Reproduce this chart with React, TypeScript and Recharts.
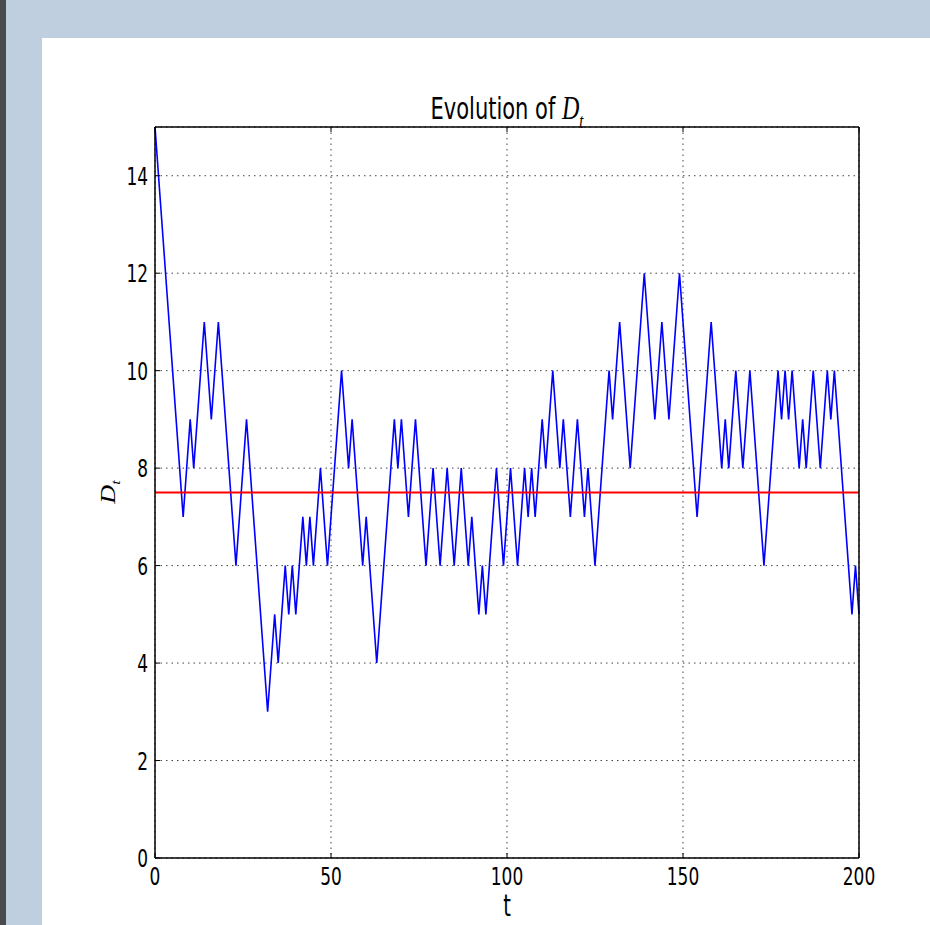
import { LineChart, Line, XAxis, YAxis, CartesianGrid, ReferenceLine } from 'recharts';

// D_t, one value per step t = 0..200
const dValues = [
  15, 14, 13, 12, 11, 10, 9, 8, 7, 8,
  9, 8, 9, 10, 11, 10, 9, 10, 11, 10,
  9, 8, 7, 6, 7, 8, 9, 8, 7, 6,
  5, 4, 3, 4, 5, 4, 5, 6, 5, 6,
  5, 6, 7, 6, 7, 6, 7, 8, 7, 6,
  7, 8, 9, 10, 9, 8, 9, 8, 7, 6,
  7, 6, 5, 4, 5, 6, 7, 8, 9, 8,
  9, 8, 7, 8, 9, 8, 7, 6, 7, 8,
  7, 6, 7, 8, 7, 6, 7, 8, 7, 6,
  7, 6, 5, 6, 5, 6, 7, 8, 7, 6,
  7, 8, 7, 6, 7, 8, 7, 8, 7, 8,
  9, 8, 9, 10, 9, 8, 9, 8, 7, 8,
  9, 8, 7, 8, 7, 6, 7, 8, 9, 10,
  9, 10, 11, 10, 9, 8, 9, 10, 11, 12,
  11, 10, 9, 10, 11, 10, 9, 10, 11, 12,
  11, 10, 9, 8, 7, 8, 9, 10, 11, 10,
  9, 8, 9, 8, 9, 10, 9, 8, 9, 10,
  9, 8, 7, 6, 7, 8, 9, 10, 9, 10,
  9, 10, 9, 8, 9, 8, 9, 10, 9, 8,
  9, 10, 9, 10, 9, 8, 7, 6, 5, 6,
  5,
];
const xTicks = [0, 50, 100, 150, 200];
const yTicks = [0, 2, 4, 6, 8, 10, 12, 14];
const threshold = 7.5;

const data = dValues.map((d, t) => ({ t, d }));

// the source image is stretched vertically, so text gets scaled too
const STRETCH = 1.5;
const GAP = 7;
const TICK_LEN = 5;
const FONT = "'DejaVu Sans', sans-serif";

function LeftTick({ x, y, payload }: any) {
  const ax = x + GAP;
  return (
    <g>
      <line x1={ax} x2={ax + TICK_LEN} y1={y} y2={y} stroke="#000" />
      <text
        transform={`translate(${x},${y}) scale(1,${STRETCH})`}
        textAnchor="end"
        dy="0.36em"
        fontSize={17}
        fontFamily={FONT}
        fill="#000"
      >
        {payload.value}
      </text>
    </g>
  );
}

function BottomTick({ x, y, payload }: any) {
  const ay = y - GAP;
  return (
    <g>
      <line x1={x} x2={x} y1={ay} y2={ay - TICK_LEN} stroke="#000" />
      <text
        transform={`translate(${x},${y + 2}) scale(1,${STRETCH})`}
        textAnchor="middle"
        dy="0.71em"
        fontSize={17}
        fontFamily={FONT}
        fill="#000"
      >
        {payload.value}
      </text>
    </g>
  );
}

function RightTick({ x, y }: any) {
  return <line x1={x} x2={x - TICK_LEN} y1={y} y2={y} stroke="#000" />;
}

function TopTick({ x, y }: any) {
  return <line x1={x} x2={x} y1={y} y2={y + TICK_LEN} stroke="#000" />;
}

function Dt({ size }: { size: number }) {
  return (
    <span>
      <i style={{ fontFamily: "'Liberation Serif', serif", fontSize: size }}>D</i>
      <span
        style={{
          fontFamily: "'Liberation Serif', serif",
          fontStyle: 'italic',
          fontSize: size * 0.62,
          position: 'relative',
          top: size * 0.25,
        }}
      >
        t
      </span>
    </span>
  );
}

export default function App() {
  return (
    <div
      style={{
        position: 'absolute',
        left: 0,
        top: 0,
        width: 930,
        height: 925,
        background: '#bfcfe0',
        overflow: 'hidden',
      }}
    >
      <div style={{ position: 'absolute', left: 0, top: 0, width: 6, height: 925, background: '#4b4b4d' }} />
      <div style={{ position: 'absolute', left: 42, top: 38, width: 888, height: 887, background: '#fff' }} />

      <div style={{ position: 'absolute', left: 0, top: 0 }}>
        <LineChart width={930} height={925} data={data} margin={{ top: 117, right: 61, bottom: 27, left: 105 }}>
          <CartesianGrid stroke="#444" strokeDasharray="1.5 4" />
          <XAxis
            dataKey="t"
            type="number"
            domain={[0, 200]}
            ticks={xTicks}
            interval={0}
            height={40}
            tickSize={0}
            tickMargin={GAP}
            tick={BottomTick}
            axisLine={{ stroke: '#000', strokeWidth: 1.5 }}
          />
          <XAxis
            xAxisId="top"
            orientation="top"
            dataKey="t"
            type="number"
            domain={[0, 200]}
            ticks={xTicks}
            interval={0}
            height={10}
            tickSize={0}
            tickMargin={0}
            tick={TopTick}
            axisLine={{ stroke: '#000', strokeWidth: 1.5 }}
          />
          <YAxis
            type="number"
            domain={[0, 15]}
            ticks={yTicks}
            interval={0}
            width={50}
            tickSize={0}
            tickMargin={GAP}
            tick={LeftTick}
            axisLine={{ stroke: '#000', strokeWidth: 1.5 }}
          />
          <YAxis
            yAxisId="right"
            orientation="right"
            type="number"
            domain={[0, 15]}
            ticks={yTicks}
            interval={0}
            width={10}
            tickSize={0}
            tickMargin={0}
            tick={RightTick}
            axisLine={{ stroke: '#000', strokeWidth: 1.5 }}
          />
          <Line
            type="linear"
            dataKey="d"
            stroke="#0000ff"
            strokeWidth={1.6}
            dot={false}
            activeDot={false}
            isAnimationActive={false}
          />
          <ReferenceLine y={threshold} stroke="#ff0000" strokeWidth={2} />
        </LineChart>
      </div>

      {/* title */}
      <div
        style={{
          position: 'absolute',
          left: 155,
          top: 98,
          width: 704,
          height: 20,
          lineHeight: '20px',
          textAlign: 'center',
          fontFamily: FONT,
          fontSize: 21,
          color: '#000',
          transform: `scaleY(1.4)`,
          whiteSpace: 'nowrap',
        }}
      >
        Evolution of <Dt size={24} />
      </div>

      {/* x label */}
      <div
        style={{
          position: 'absolute',
          left: 495,
          top: 898,
          width: 24,
          height: 18,
          lineHeight: '18px',
          textAlign: 'center',
          fontFamily: FONT,
          fontSize: 19.5,
          color: '#000',
          transform: `scaleY(${STRETCH})`,
        }}
      >
        t
      </div>

      {/* y label */}
      <div
        style={{
          position: 'absolute',
          left: 78,
          top: 477,
          width: 60,
          height: 30,
          lineHeight: '30px',
          textAlign: 'center',
          color: '#000',
          transform: `scaleY(1.3) rotate(-90deg)`,
          whiteSpace: 'nowrap',
        }}
      >
        <Dt size={20} />
      </div>
    </div>
  );
}
